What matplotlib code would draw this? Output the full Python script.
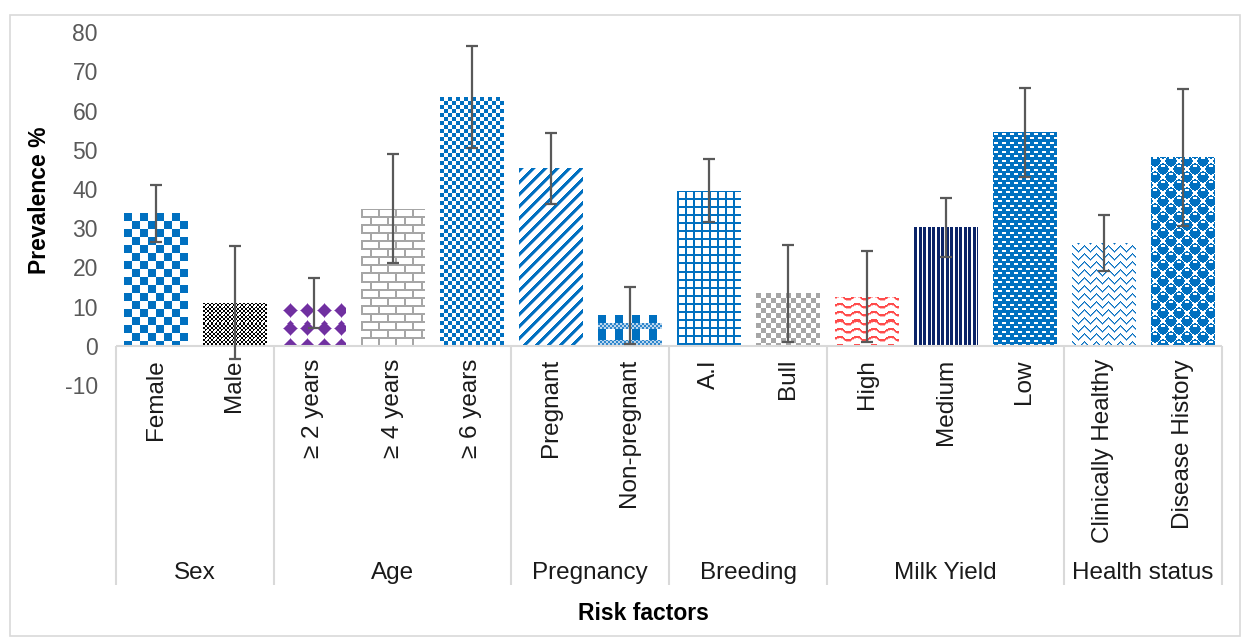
import numpy as np
import matplotlib
matplotlib.use('Agg')
import matplotlib.pyplot as plt
from matplotlib.patches import Rectangle
from matplotlib import colors as mcolors
from matplotlib.transforms import offset_copy

# ---------------- data ----------------
categories = ['Female', 'Male', '≥ 2 years', '≥ 4 years', '≥ 6 years',
              'Pregnant', 'Non-pregnant', 'A.I', 'Bull',
              'High', 'Medium', 'Low', 'Clinically Healthy', 'Disease History']
groups = ['Sex', 'Age', 'Pregnancy', 'Breeding', 'Milk Yield', 'Health status']
group_sizes = [2, 3, 2, 2, 3, 2]
prevalence = [33.8, 11.0, 11.0, 35.0, 63.4, 45.3, 7.8, 39.6, 13.4, 12.6, 30.3, 54.4, 26.2, 48.1]
error = [7.2, 14.4, 6.4, 13.9, 13.0, 9.0, 7.2, 8.0, 12.3, 11.5, 7.5, 11.4, 7.2, 17.4]
yticks = [-10, 0, 10, 20, 30, 40, 50, 60, 70, 80]
patterns = ['bigcheck', 'blackcheck', 'diamond', 'brick', 'smallcheck',
            'diag', 'plaid', 'grid', 'graycheck',
            'wave', 'vstripe', 'dash', 'zigzag', 'sphere']

BLUE = '#0070C0'
FONT = ['Liberation Sans', 'DejaVu Sans']
plt.rcParams['font.family'] = FONT
plt.rcParams['axes.unicode_minus'] = False


def rgb(c):
    return np.array(mcolors.to_rgb(c))


def make_pattern(kind, h, w):
    yy, xx = np.mgrid[0:h, 0:w]
    img = np.ones((h, w, 3))

    def paint(mask, color):
        img[mask] = rgb(color)

    if kind == 'bigcheck':
        paint(((xx // 8 + yy // 8) % 2 == 0), BLUE)
    elif kind == 'blackcheck':
        base = ((xx // 2 + yy // 2) % 2 == 0)
        paint(base, '#000000')
        paint((xx % 8 >= 3) & (xx % 8 <= 4) & (yy % 8 >= 3) & (yy % 8 <= 4), '#FFFFFF')
    elif kind == 'diamond':
        dx = (xx % 17) - 8
        dy = (yy % 17) - 8
        paint(np.abs(dx) + np.abs(dy) == 7, '#B48BD0')
        paint(np.abs(dx) + np.abs(dy) <= 6, '#7030A0')
    elif kind == 'brick':
        row = yy // 8
        m = (yy % 8 < 2) | (((xx + (row % 2) * 8) % 17) < 2)
        paint(m, '#A6A6A6')
    elif kind == 'smallcheck':
        paint(((xx // 4 + yy // 4) % 2 == 0), BLUE)
    elif kind == 'diag':
        paint(((xx + yy) % 12 < 4), BLUE)
        paint(((xx + yy) % 12 == 4), '#8CBCE4')
    elif kind == 'plaid':
        ym = yy % 31
        cols = (ym < 25) & (xx % 17 < 8)
        band = ((ym >= 8) & (ym < 14)) | (ym >= 25)
        fine = ((xx // 2 + yy // 2) % 2 == 0)
        paint(band & fine, '#2E86CC')
        paint(band & ~fine, '#BBD7EE')
        paint(cols & ~band, BLUE)
    elif kind == 'grid':
        paint((xx % 8 < 2) | (yy % 8 < 2), BLUE)
    elif kind == 'graycheck':
        paint(((xx // 5 + yy // 5) % 2 == 0), '#A6A6A6')
    elif kind == 'wave':
        d = (yy + 2.0 * np.sin(2 * np.pi * xx / 17.0)) % 8
        paint((d >= 2) & (d < 2.8), '#FFB0B0')
        paint(d < 2, '#FF4B4B')
    elif kind == 'vstripe':
        xm = xx % 9
        paint((xm < 3) | ((xm >= 5) & (xm < 8)), '#0B2468')
    elif kind == 'dash':
        img[:] = rgb(BLUE)
        ym = yy % 9
        rowA = (ym >= 1) & (ym <= 2) & ((xx % 8) >= 1) & ((xx % 8) <= 4)
        rowB = (ym >= 5) & (ym <= 6) & (((xx + 4) % 8) >= 1) & (((xx + 4) % 8) <= 4)
        paint(rowA | rowB, '#FFFFFF')
    elif kind == 'zigzag':
        f = np.abs((xx % 12) - 6)
        m = ((yy + f) % 8 < 2)
        alt = ((xx + yy) % 2 == 0)
        paint(m & alt, BLUE)
        paint(m & ~alt, '#6FA8DC')
    elif kind == 'sphere':
        u = xx % 16
        v = yy % 16
        mask = np.zeros_like(u, dtype=bool)
        hl = np.zeros_like(u, dtype=bool)
        for cx, cy in [(3.5, 3.5), (11.5, 11.5)]:
            dx = ((u - cx + 8) % 16) - 8
            dy = ((v - cy + 8) % 16) - 8
            mask |= (dx ** 2 + dy ** 2) <= 5.7 ** 2
            hl |= (np.abs(dx) <= 1.5) & (dy > -3.6) & (dy < -2.4)
        paint(mask, BLUE)
        paint(hl, '#FFFFFF')
    return img


# ---------------- figure ----------------
W, H = 1250, 641
fig = plt.figure(figsize=(W / 100, H / 100), dpi=100)
ax = fig.add_axes([116 / W, (H - 385.25) / H, 1106 / W, 353.25 / H])

x = np.arange(len(categories))
bars = ax.bar(x, prevalence, width=0.81, color='none', edgecolor='none', zorder=2)
ax.set_xlim(-0.5, len(categories) - 0.5)
ax.set_ylim(-10, 80)

for b, kind in zip(bars, patterns):
    x0, y0 = b.get_x(), b.get_y()
    x1, y1 = x0 + b.get_width(), y0 + b.get_height()
    (px0, py0), (px1, py1) = ax.transData.transform([(x0, y0), (x1, y1)])
    wpx = max(1, int(round(px1 - px0)))
    hpx = max(1, int(round(py1 - py0)))
    img = make_pattern(kind, hpx, wpx)
    im = ax.imshow(img, extent=(x0, x1, y0, y1), origin='upper',
                   interpolation='nearest', aspect='auto', zorder=2)
    im.set_clip_path(b)

ax.set_xlim(-0.5, len(categories) - 0.5)
ax.set_ylim(-10, 80)

ax.errorbar(x, prevalence, yerr=error, fmt='none', ecolor='#595959',
            elinewidth=1.6, capsize=4.5, capthick=1.6, zorder=4)

for s in ax.spines.values():
    s.set_visible(False)
ax.set_xticks([])
ax.set_yticks(yticks)
ax.tick_params(axis='y', length=0, pad=13, labelsize=16.5, labelcolor='#595959')

# horizontal axis line at zero
ax.axhline(0, color='#D9D9D9', lw=1.5, zorder=3)

# group separators
inv = ax.transData.inverted()
y_sep_bottom = inv.transform((0, H - 585))[1]
bounds = np.concatenate([[0], np.cumsum(group_sizes)]) - 0.5
ax.vlines(bounds, y_sep_bottom, 0, colors='#D9D9D9', lw=1.5, clip_on=False, zorder=3)

# category labels
cat_tr = offset_copy(ax.transData, fig=fig, x=0, y=-13, units='dots')
for xi, lab in zip(x, categories):
    ax.text(xi, 0, lab, transform=cat_tr, rotation=90, ha='center', va='top',
            fontsize=17.5, color='#1A1A1A', clip_on=False)

# group labels
grp_tr = offset_copy(ax.transData, fig=fig, x=0, y=-227, units='dots')
for i, g in enumerate(groups):
    cx = (bounds[i] + bounds[i + 1]) / 2
    ax.text(cx, 0, g, transform=grp_tr, ha='center', va='center',
            fontsize=17.5, color='#1A1A1A', clip_on=False)

fig.text(643 / W, 1 - 614 / H, 'Risk factors', ha='center', va='center',
         fontsize=16.5, fontweight='bold', color='#000000')
fig.text(40 / W, 1 - 200 / H, 'Prevalence %', ha='center', va='center',
         rotation=90, fontsize=16.5, fontweight='bold', color='#000000')

fig.patches.append(Rectangle((9.5 / W, 5 / H), (1240 - 9.5) / W, (636 - 15) / H,
                             transform=fig.transFigure, fill=False,
                             ec='#D9D9D9', lw=1.2))

fig.savefig('out.png', dpi=100)
